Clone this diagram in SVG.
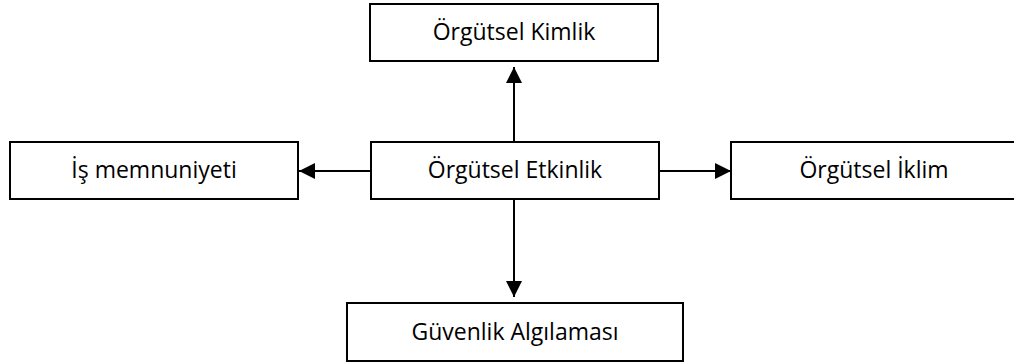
<svg xmlns="http://www.w3.org/2000/svg" width="1014" height="364" viewBox="0 0 1014 364">
  <style>
    .box { fill: #ffffff; stroke: #000000; stroke-width: 2; }
    .label { font-family: "Open Sans", "Noto Sans", "Liberation Sans", sans-serif; font-size: 23px; fill: #000000; text-anchor: middle; }
    .link { stroke: #000000; stroke-width: 2; fill: none; marker-end: url(#arrow); }
  </style>
  <defs>
    <marker id="arrow" viewBox="0 0 16 16" refX="16" refY="8" markerWidth="16" markerHeight="16" markerUnits="userSpaceOnUse" orient="auto">
      <path d="M0,0 L16,8 L0,16 Z" fill="#000000"/>
    </marker>
  </defs>

  <g id="connectors">
    <line class="link" x1="514" y1="142" x2="514" y2="67"/>
    <line class="link" x1="371" y1="171" x2="299" y2="171"/>
    <line class="link" x1="659" y1="171" x2="731" y2="171"/>
    <line class="link" x1="514" y1="199" x2="514" y2="297"/>
  </g>

  <g id="orgutsel-kimlik">
    <rect class="box" x="370" y="4" width="288" height="57"/>
    <text class="label" x="514" y="40">Örgütsel Kimlik</text>
  </g>

  <g id="is-memnuniyeti">
    <rect class="box" x="10" y="142" width="288" height="57"/>
    <text class="label" x="154" y="178">İş memnuniyeti</text>
  </g>

  <g id="orgutsel-etkinlik">
    <rect class="box" x="371" y="142" width="288" height="57"/>
    <text class="label" x="515" y="178">Örgütsel Etkinlik</text>
  </g>

  <g id="orgutsel-iklim">
    <rect class="box" x="731" y="142" width="290" height="57"/>
    <text class="label" x="874" y="178">Örgütsel İklim</text>
  </g>

  <g id="guvenlik-algilamasi">
    <rect class="box" x="347" y="303" width="336" height="58"/>
    <text class="label" x="515" y="340">Güvenlik Algılaması</text>
  </g>
</svg>
